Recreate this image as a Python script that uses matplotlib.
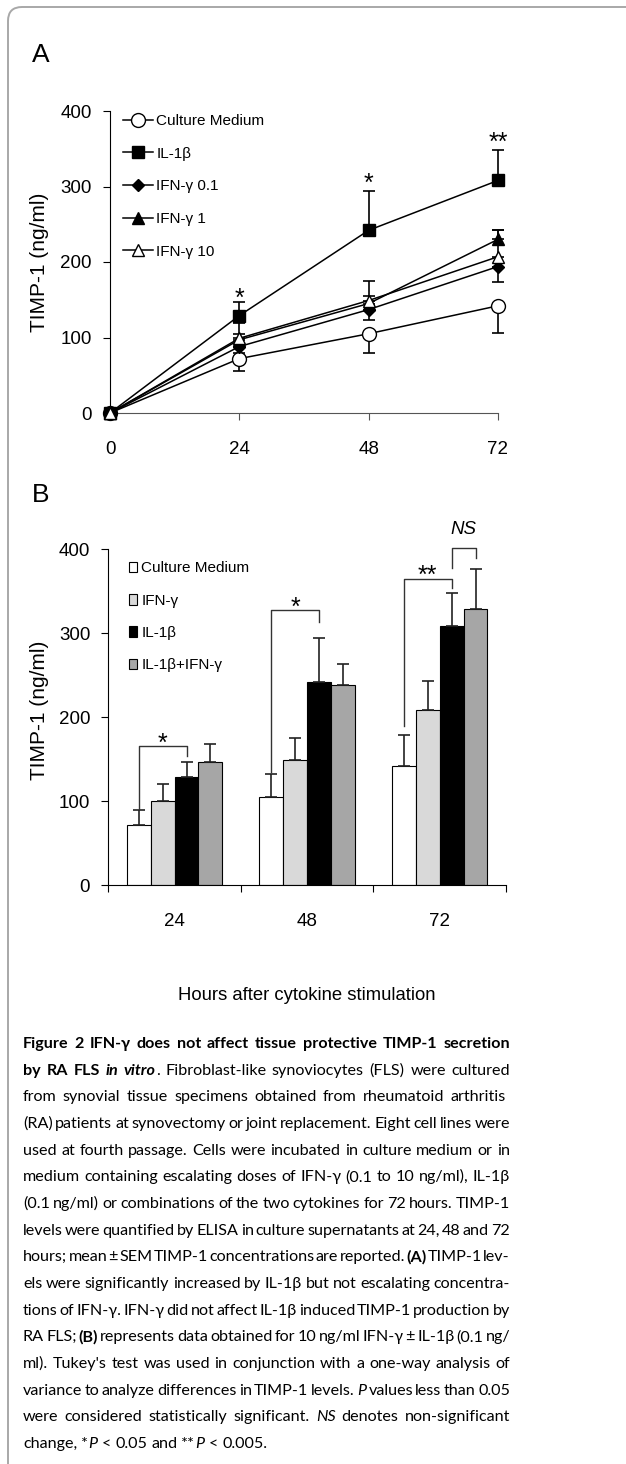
import matplotlib
matplotlib.use("Agg")
import matplotlib.pyplot as plt
import numpy as np
from matplotlib.patches import FancyBboxPatch
from matplotlib.transforms import IdentityTransform

# ---------------------------------------------------------------- data A
HOURS = [0, 24, 48, 72]
LABELS_A = ["Culture Medium", "IL-1β", "IFN-γ 0.1", "IFN-γ 1", "IFN-γ 10"]
CM_A = [0, 72, 105, 142]
CM_A_ERR = [0, 17, 26, 36]
IL1_A = [0, 129, 242, 308]
IL1_A_ERR = [0, 18, 52, 40]
IFN01_A = [0, 88, 137, 194]
IFN01_A_ERR = [0, 8, 14, 21]
IFN1_A = [0, 97, 145, 230]
IFN1_A_ERR = [0, 8, 10, 12]
IFN10_A = [0, 99, 149, 207]
IFN10_A_ERR = [0, 20, 26, 35]

# ---------------------------------------------------------------- data B
GROUPS_B = ["24", "48", "72"]
LABELS_B = ["Culture Medium", "IFN-γ", "IL-1β", "IL-1β+IFN-γ"]
CM_B = [72, 105, 142]
CM_B_ERR = [17, 27, 37]
IFN_B = [100, 149, 208]
IFN_B_ERR = [20, 26, 35]
IL1_B = [129, 242, 308]
IL1_B_ERR = [18, 52, 40]
COMBO_B = [147, 238, 328]
COMBO_B_ERR = [21, 25, 48]

# significance marks
STARS_A = [(24, "*"), (48, "*"), (72, "**")]
STARS_A_Y = [142, 294, 349]
# (group, bar_left, bar_right, top, bottom_left, bottom_right, text, text_y)
BRACKETS_B = [
    (0, 0, 2, 165, 90, 154, "*", 160),
    (1, 0, 2, 327, 135, 313, "*", 322),
    (2, 0, 2, 364, 189, 353, "**", 360),
    (2, 2, 3, 401, 377, 389, "NS", 418),
]

CAPTION = [
    [("Figure 2 IFN-γ does not affect tissue protective TIMP-1 secretion", "b")],
    [("by RA FLS ", "b"), ("in vitro", "bi"),
     (". Fibroblast-like synoviocytes (FLS) were cultured", "r")],
    [("from synovial tissue specimens obtained from rheumatoid arthritis", "r")],
    [("(RA) patients at synovectomy or joint replacement. Eight cell lines were", "r")],
    [("used at fourth passage. Cells were incubated in culture medium or in", "r")],
    [("medium containing escalating doses of IFN-γ (0.1 to 10 ng/ml), IL-1β", "r")],
    [("(0.1 ng/ml) or combinations of the two cytokines for 72 hours. TIMP-1", "r")],
    [("levels were quantified by ELISA in culture supernatants at 24, 48 and 72", "r")],
    [("hours; mean ± SEM TIMP-1 concentrations are reported. ", "r"), ("(A)", "b"),
     (" TIMP-1 lev-", "r")],
    [("els were significantly increased by IL-1β but not escalating concentra-", "r")],
    [("tions of IFN-γ. IFN-γ did not affect IL-1β induced TIMP-1 production by", "r")],
    [("RA FLS; ", "r"), ("(B)", "b"),
     (" represents data obtained for 10 ng/ml IFN-γ ± IL-1β (0.1 ng/", "r")],
    [("ml). Tukey's test was used in conjunction with a one-way analysis of", "r")],
    [("variance to analyze differences in TIMP-1 levels. ", "r"), ("P", "i"),
     (" values less than 0.05", "r")],
    [("were considered statistically significant. ", "r"), ("NS", "i"),
     (" denotes non-significant", "r")],
    [("change, *", "r"), ("P", "i"), (" < 0.05 and **", "r"), ("P", "i"),
     (" < 0.005.", "r")],
]

SANS = ["Liberation Sans", "DejaVu Sans"]
CAP_FONT = ["Lato", "DejaVu Sans"]
plt.rcParams["font.family"] = SANS

W, H = 626.0, 1464.0
fig = plt.figure(figsize=(W / 100, H / 100), dpi=100)


def rect(x0, y0, x1, y1):
    return [x0 / W, 1 - y1 / H, (x1 - x0) / W, (y1 - y0) / H]


def style_axes(ax):
    for sp in ("top", "right"):
        ax.spines[sp].set_visible(False)
    for sp in ("left", "bottom"):
        ax.spines[sp].set_linewidth(0.8)
    ax.tick_params(direction="out", length=5, width=0.8, labelsize=13.5)
    ax.tick_params(axis="y", pad=8)
    ax.set_ylim(0, 400)
    ax.set_yticks([0, 100, 200, 300, 400])


# border round the whole figure
fig.add_artist(FancyBboxPatch((8, -30), 660, H - 7 + 30,
                              boxstyle="round,pad=0,rounding_size=14",
                              transform=IdentityTransform(),
                              fc="none", ec="#a8a8a8", lw=1.4))

# ------------------------------------------------------------------ panel A
axA = fig.add_axes(rect(110, 111, 498, 413))
style_axes(axA)
series_a = [
    (CM_A, CM_A_ERR, "down", "o", "white", 10),
    (IL1_A, IL1_A_ERR, "up", "s", "black", 9),
    (IFN01_A, IFN01_A_ERR, "down", "D", "black", 6.5),
    (IFN1_A, IFN1_A_ERR, "up", "^", "black", 9),
    (IFN10_A, IFN10_A_ERR, "up", "^", "white", 9),
]
zero = [0] * len(HOURS)
for lab, (vals, err, d, mk, fc, ms) in zip(LABELS_A, series_a):
    lo, hi = (err, zero) if d == "down" else (zero, err)
    axA.errorbar(HOURS, vals, yerr=[lo, hi], fmt="none", ecolor="black",
                 elinewidth=1.2, capsize=4, capthick=1.2, zorder=2,
                 clip_on=False)
    axA.plot(HOURS, vals, color="black", lw=1.1, marker=mk, mfc=fc,
             mec="black", mew=1.0, ms=ms, label=lab, zorder=3, clip_on=False)
axA.set_xlim(0, 72)
axA.set_xticks(HOURS)
axA.tick_params(axis="x", pad=15)
axA.spines["bottom"].set_color("#555555")
axA.tick_params(axis="x", color="#555555")
axA.set_ylabel("TIMP-1 (ng/ml)", fontsize=15)
axA.yaxis.set_label_coords((49 - 110) / 388, 0.5)
axA.legend(loc="upper left", bbox_to_anchor=(0.033, 0.99), frameon=False,
           fontsize=11, handlelength=2.0, handletextpad=0.2,
           labelspacing=1.22, borderpad=0, borderaxespad=0)
for (hx, s), hy in zip(STARS_A, STARS_A_Y):
    axA.text(hx, hy, s, ha="center", va="baseline", fontsize=18)

# ------------------------------------------------------------------ panel B
axB = fig.add_axes(rect(108.3, 549, 506, 885))
style_axes(axB)
xg = np.arange(len(GROUPS_B))
bw = 0.18
bars_b = [(CM_B, CM_B_ERR, "white"), (IFN_B, IFN_B_ERR, "#d9d9d9"),
          (IL1_B, IL1_B_ERR, "black"), (COMBO_B, COMBO_B_ERR, "#a6a6a6")]
for i, (lab, (vals, err, fc)) in enumerate(zip(LABELS_B, bars_b)):
    xi = xg + (i - 1.5) * bw
    axB.bar(xi, vals, bw, color=fc, edgecolor="black", lw=0.8, label=lab,
            zorder=2)
    axB.errorbar(xi, vals, yerr=[np.zeros(len(vals)), err], fmt="none",
                 ecolor="#222222", elinewidth=1.2, capsize=4, capthick=1.2,
                 zorder=3)
axB.set_xlim(-0.5, 2.5)
axB.set_xticks([-0.5, 0.5, 1.5, 2.5])
axB.set_xticklabels([])
axB.set_xticks(xg, minor=True)
axB.set_xticklabels(GROUPS_B, minor=True)
axB.tick_params(axis="x", which="minor", length=0, pad=20, labelsize=13.5)
axB.tick_params(axis="y", which="minor", length=0)
axB.set_ylabel("TIMP-1 (ng/ml)", fontsize=15)
axB.yaxis.set_label_coords((49 - 108.3) / 397.7, 0.52)
axB.legend(loc="upper left", bbox_to_anchor=(0.052, 0.963), frameon=False,
           fontsize=11, handlelength=0.55, handleheight=0.7,
           handletextpad=0.25, labelspacing=1.2, borderpad=0,
           borderaxespad=0)
for g, a, b, top, ya, yb, s, ty in BRACKETS_B:
    xa = g + (a - 1.5) * bw
    xb = g + (b - 1.5) * bw
    axB.plot([xa, xa, xb, xb], [ya, top, top, yb], color="#333333", lw=1.0,
             clip_on=False, zorder=4)
    if s == "NS":
        axB.text((xa + xb) / 2, ty, s, ha="center", va="baseline",
                 fontsize=13.5, style="italic")
    else:
        axB.text((xa + xb) / 2, ty, s, ha="center", va="baseline",
                 fontsize=18)

# panel letters and common x label
fig.text(32 / W, 1 - 62 / H, "A", fontsize=19, va="baseline")
fig.text(32 / W, 1 - 502 / H, "B", fontsize=19, va="baseline")
fig.text(307 / W, 1 - 1000 / H, "Hours after cytokine stimulation",
         ha="center", va="baseline", fontsize=13.3)

# ------------------------------------------------------------------ caption
renderer = fig.canvas.get_renderer()
STY = {"r": ("normal", "normal"), "b": ("bold", "normal"),
       "i": ("normal", "italic"), "bi": ("bold", "italic")}
cap_size = 11.0
X_LEFT, X_RIGHT = 23, 510


def cap_text(x, y, s, sty):
    wt, st = STY[sty]
    return fig.text(x, y, s, transform=IdentityTransform(), fontsize=cap_size,
                    family=CAP_FONT, fontweight=wt, fontstyle=st,
                    va="baseline", ha="left")


def width(s, sty):
    t = cap_text(0, 0, s, sty)
    w = t.get_window_extent(renderer).width
    t.remove()
    return w


# fit the font size: the third line runs loose to about x = 492
cap_size *= (492 - X_LEFT) / width(CAPTION[2][0][0], "r")
space = width("x x", "r") - width("xx", "r")
for li, line in enumerate(CAPTION):
    words = []
    pending = False
    for text, sty in line:
        for k, part in enumerate(text.split(" ")):
            if part == "":
                continue
            if words and not (k > 0 or pending):
                words[-1].append((part, sty))
            else:
                words.append([(part, sty)])
        pending = text.endswith(" ")
    widths = [[width(p, s) for p, s in w] for w in words]
    total = sum(sum(w) for w in widths)
    gap = space
    if li < len(CAPTION) - 1 and len(words) > 1:
        gap = (X_RIGHT - X_LEFT - total) / (len(words) - 1)
        gap = min(max(gap, space * 0.3), space * 1.5)
    y = H - (1048 + 26.67 * li)
    x = X_LEFT
    for w, ws in zip(words, widths):
        for (p, s), pw in zip(w, ws):
            cap_text(x, y, p, s)
            x += pw
        x += gap

fig.savefig("out.png", dpi=100)
